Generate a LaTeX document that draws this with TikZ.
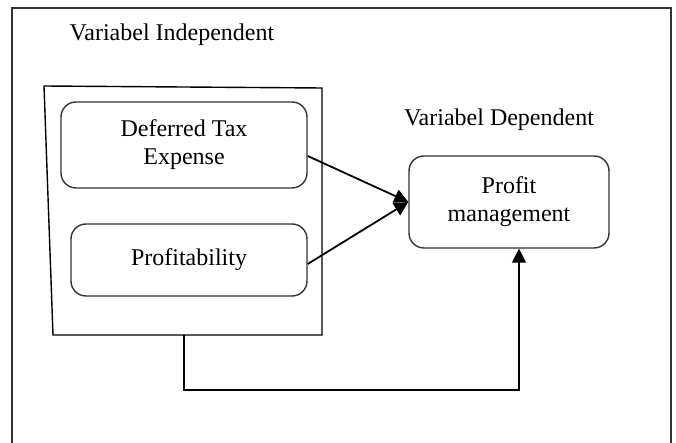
\documentclass[tikz,border=0pt]{standalone}
\usepackage{fontspec}
\setmainfont{Liberation Serif}
\usetikzlibrary{arrows.meta,calc}

\tikzset{
  varbox/.style={draw=black!80, line width=0.7pt, rounded corners=7.5pt, align=center, inner sep=0pt},
  arr/.style={-{Triangle[length=7pt,width=7pt]}, line width=0.9pt},
}

\begin{document}
\begin{tikzpicture}[x=0.5pt,y=-0.5pt,font=\fontsize{12}{14}\selectfont]
\useasboundingbox (0,0) rectangle (676,443);

% frame (open at the bottom)
\draw[line width=0.8pt,black!80] (12,443) -- (12,8) -- (671,8) -- (671,443);
% group of independent variables
\draw[line width=0.7pt] (44,86) -- (322,88) -- (322,335) -- (53,335) -- cycle;
\coordinate (indbottom) at (184,335);

\node (indlabel) at (172,35) {Variabel Independent};
\node (deplabel) at (499,120) {Variabel Dependent};

\node[varbox, minimum width=123pt, minimum height=43pt] (deferred) at (184,145) {Deferred Tax\\Expense};
\node[varbox, minimum width=118pt, minimum height=36pt] (profitability) at (189,260) {Profitability};
\node[varbox, minimum width=100pt, minimum height=46pt] (profit) at (509,202) {Profit\\management};

%\draw[help lines] (0,0) grid (676,443);
\draw[arr] ($(deferred.east)+(0,11)$) -- (profit.west);
\draw[arr] ($(profitability.east)+(0,4)$) -- (profit.west);
\draw[arr] (indbottom) -- ++(0,55) -| ($(profit.south)+(10,0)$);
\end{tikzpicture}
\end{document}
